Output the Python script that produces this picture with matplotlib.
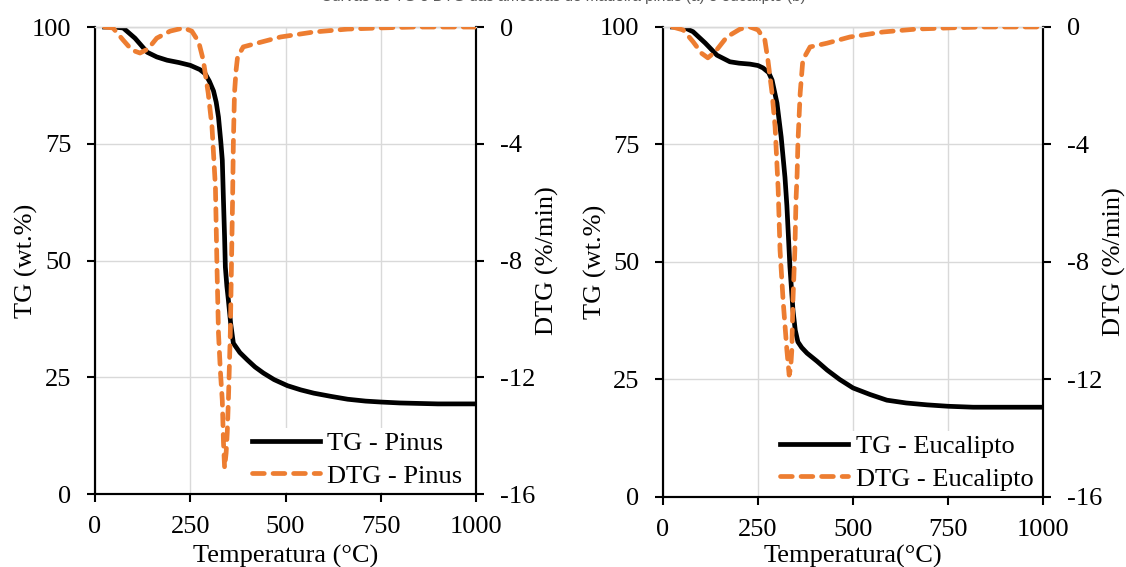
import numpy as np
import matplotlib.pyplot as plt

# TG / DTG curves, pinus (a)
temp_tg_pinus = [25, 50, 74, 105, 137, 162, 189, 220, 250, 275, 289, 300, 311, 318, 324, 330, 334, 337,
                 340, 342, 346, 350, 356, 363, 380, 400, 420, 442, 470, 505, 540, 574, 620, 663, 710,
                 750, 800, 850, 900, 950, 1000]
tg_pinus = [100, 100, 99.8, 97.6, 94.6, 93.6, 92.9, 92.4, 91.8, 90.9, 90.0, 88.4, 86.3, 83.9, 80.7, 75.5,
            71.5, 63.0, 55.0, 48.6, 44.5, 41.5, 36.5, 32.3, 30.3, 28.7, 27.2, 25.9, 24.5, 23.2, 22.3,
            21.6, 20.9, 20.3, 19.9, 19.7, 19.5, 19.4, 19.3, 19.3, 19.3]

temp_dtg_pinus = [25, 47, 74, 97, 118, 139, 162, 197, 232, 254, 272, 284, 297, 307, 316, 320, 324, 329,
                  334, 337, 340, 344, 347, 350, 355, 358, 361, 363, 366, 370, 374, 389, 426, 487, 574,
                  663, 750, 837, 1000]
dtg_pinus = [0, -0.03, -0.45, -0.79, -0.89, -0.75, -0.38, -0.14, -0.03, -0.14, -0.51, -1.13, -2.26,
             -3.43, -5.5, -8.2, -10.5, -11.8, -12.8, -14.2, -15.1, -14.6, -13.9, -12.8, -10.5, -8.2,
             -5.9, -3.97, -2.26, -1.5, -1.03, -0.68, -0.55, -0.34, -0.17, -0.07, -0.03, 0, 0]

# TG / DTG curves, eucalipto (b)
temp_tg_euc = [25, 53, 79, 111, 142, 176, 200, 229, 250, 263, 278, 287, 300, 311, 321, 326, 334, 342,
               348, 355, 365, 379, 405, 432, 465, 500, 545, 589, 640, 695, 750, 816, 900, 1000]
tg_euc = [100, 100, 99.0, 96.6, 94.0, 92.6, 92.3, 92.1, 91.8, 91.3, 90.3, 88.7, 83.8, 76.6, 68.0, 62.0,
          49.0, 39.8, 35.5, 33.0, 31.8, 30.6, 28.9, 27.0, 25.0, 23.2, 21.8, 20.6, 20.0, 19.6, 19.3,
          19.1, 19.1, 19.1]

temp_dtg_euc = [25, 53, 79, 102, 118, 137, 168, 203, 229, 250, 268, 276, 287, 295, 303, 308, 316, 326,
                332, 336, 339, 342, 347, 350, 353, 355, 361, 368, 387, 432, 492, 579, 668, 755, 842, 1000]
dtg_euc = [0, -0.1, -0.5, -0.9, -1.05, -0.85, -0.34, -0.07, 0, -0.1, -0.44, -1.12, -2.25, -3.4, -5.5,
           -7.6, -9.3, -11.0, -11.85, -11.6, -11.0, -9.3, -7.6, -5.9, -5.0, -3.95, -2.25, -1.12, -0.68,
           -0.55, -0.34, -0.17, -0.07, -0.03, 0, 0]

x_ticks = [0, 250, 500, 750, 1000]
tg_ticks = [0, 25, 50, 75, 100]
dtg_ticks = [-16, -12, -8, -4, 0]

orange = '#ed7d31'
grid_gray = '#d9d9d9'
fontsize = 19

plt.rcParams['font.family'] = ['Liberation Serif', 'DejaVu Serif']

fig = plt.figure(figsize=(11.26, 5.67), dpi=100)
ax_a = fig.add_axes([0.0844, 0.1287, 0.3384, 0.8236])
ax_b = fig.add_axes([0.5888, 0.1235, 0.3375, 0.8289])


def tg_panel(ax, t_tg, tg, t_dtg, dtg, name, xlabel, legend_anchor, label_x):
    ax.plot(t_tg, tg, color='black', lw=3.4, solid_joinstyle='round', label='TG - ' + name, zorder=3)
    ax.set_xlim(0, 1000)
    ax.set_ylim(0, 100)
    ax.set_xticks(x_ticks)
    ax.set_yticks(tg_ticks)
    ax.grid(True, color=grid_gray, lw=1.0)
    ax.set_axisbelow(True)
    ax.set_xlabel(xlabel, fontsize=fontsize)
    ax.set_ylabel('TG (wt.%)', fontsize=fontsize)
    ax.xaxis.set_label_coords(0.5, label_x[2])
    ax.yaxis.set_label_coords(label_x[0], 0.5)
    ax.tick_params(direction='out', length=6, width=1.5, labelsize=fontsize, pad=11)
    ax.tick_params(axis='x', pad=10)
    for side in ['left', 'bottom', 'right']:
        ax.spines[side].set_linewidth(1.5)
    ax.spines['top'].set_color(grid_gray)
    ax.spines['top'].set_linewidth(1.0)

    ax2 = ax.twinx()
    ax2.plot(t_dtg, dtg, color=orange, lw=3.4, dashes=(2.5, 1.85), dash_capstyle='round',
             label='DTG - ' + name, zorder=4)
    ax2.set_ylim(-16, 0)
    ax2.set_yticks(dtg_ticks)
    ax2.set_yticklabels(['-16', '-12', '-8', '-4', '0'])
    ax2.set_ylabel('DTG (%/min)', fontsize=fontsize)
    ax2.yaxis.set_label_coords(label_x[1], 0.5)
    ax2.tick_params(direction='out', length=6, width=1.5, labelsize=fontsize, pad=11)
    for side in ['left', 'bottom', 'right']:
        ax2.spines[side].set_linewidth(1.5)
    ax2.spines['top'].set_color(grid_gray)
    ax2.spines['top'].set_linewidth(1.0)

    h1, l1 = ax.get_legend_handles_labels()
    h2, l2 = ax2.get_legend_handles_labels()
    ax2.legend(h1 + h2, l1 + l2, loc='lower right', bbox_to_anchor=legend_anchor,
               fontsize=fontsize, frameon=True, fancybox=False, edgecolor='none',
               facecolor='white', framealpha=1.0, handlelength=2.6, handletextpad=0.27,
               labelspacing=0.35, borderpad=0.15, borderaxespad=0.0)
    return ax2


tg_panel(ax_a, temp_tg_pinus, tg_pinus, temp_dtg_pinus, dtg_pinus, 'Pinus',
         'Temperatura (°C)', (0.975, 0.005), (-0.150, 1.157, -0.110))
tg_panel(ax_b, temp_tg_euc, tg_euc, temp_dtg_euc, dtg_euc, 'Eucalipto',
         'Temperatura(°C)', (0.985, 0.005), (-0.147, 1.158, -0.103))

fig.text(0.5, 0.993, 'Curvas de TG e DTG das amostras de madeira pinus (a) e eucalipto (b)',
         ha='center', va='bottom', fontsize=11, color='#595959', family=['Liberation Sans'])

fig.savefig('out.png', dpi=100)
